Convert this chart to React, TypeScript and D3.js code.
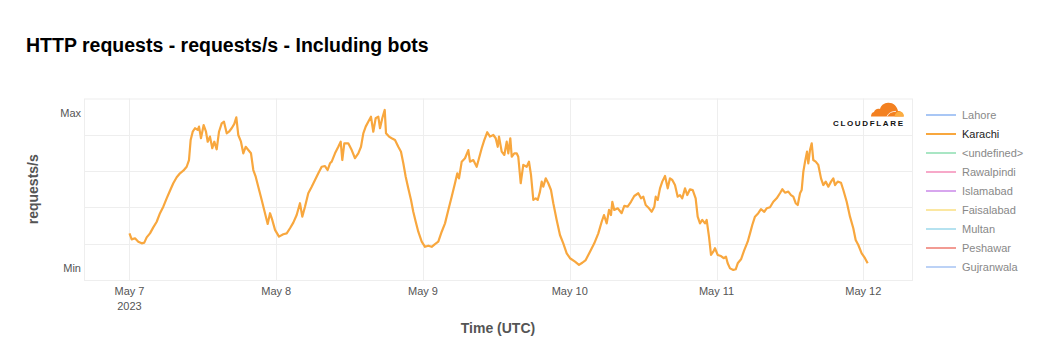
import React from "react";
import * as d3 from "d3";

// ---- data ----
const seriesStartUtc = "2023-05-07T00:00:00Z";
const xDomainHours = [-7.44, 127.97];
// hours since May 7 00:00 UTC
const hoursSinceStart = [
  0, 0.36, 0.9, 1.44, 2.0, 2.42, 2.81, 3.35, 3.89, 4.45, 4.99, 5.53, 6.08, 6.62, 7.16, 7.72, 8.26, 8.8, 9.35, 9.73,
  10.0, 10.34, 10.71, 11.15, 11.37, 11.69, 12.13, 12.51, 12.79, 13.16, 13.54, 13.87, 14.26, 14.64, 15.08, 15.45, 15.9, 16.27, 16.71, 17.14,
  17.47, 17.79, 18.23, 18.61, 19.0, 19.43, 19.87, 20.25, 20.64, 21.06, 21.62, 22.16, 22.6, 22.98, 23.35, 23.8, 24.45, 25.15, 25.71, 26.25,
  26.79, 27.34, 27.88, 28.26, 28.7, 29.24, 29.8, 30.34, 30.88, 31.43, 31.97, 32.41, 32.79,
  33.07, 33.61, 34.15, 34.54, 34.8, 35.13, 35.78, 36.34, 36.88, 37.42, 37.86, 38.24, 38.63, 39.05, 39.49, 39.87, 40.26, 40.69, 40.97, 41.34,
  41.74, 41.95, 42.44, 42.88, 43.42, 43.96, 44.4, 44.78, 45.17, 45.59, 46.04, 46.41, 46.81, 47.23, 47.79, 48.33, 48.87, 49.42, 49.96, 50.5,
  51.06, 51.6, 52.14, 52.69, 53.23, 53.61, 53.89, 54.33, 54.87, 55.41, 55.69, 56.22, 56.78, 57.16, 57.6, 58.02, 58.51, 58.96, 59.5, 59.89,
  60.22, 60.43, 60.87, 61.3, 61.69, 61.95, 62.28, 62.51, 62.93, 63.32, 63.58, 63.98, 64.4, 64.96, 65.33,
  65.66, 66.04, 66.43, 66.76, 67.13, 67.41, 67.67, 68.07, 68.49, 68.93, 69.31, 69.86, 70.4, 70.94, 71.5, 72.04, 72.86, 73.51, 74.05, 74.61,
  75.31, 76.01, 76.67, 77.22, 77.6, 78.04, 78.42, 78.74, 78.96, 79.28, 79.84, 80.49, 80.92, 81.47, 82.01, 82.55, 83.21, 83.65, 84.03, 84.42,
  84.96, 85.4, 85.83, 86.06, 86.38, 86.76, 87.13, 87.58, 88.02, 88.39, 88.77, 89.21, 89.65, 90.03, 90.4, 90.85, 91.22, 91.66, 92.1, 92.59,
  92.92, 93.3, 93.67, 94.12, 94.39, 94.77, 95.1, 95.47, 95.75, 96.19, 96.73, 97.17, 97.55,
  97.83, 98.21, 98.75, 99.14, 99.47, 100.01, 100.54, 101.1, 101.48, 101.85, 102.29, 102.83, 103.27, 103.81, 104.21, 104.75, 105.29, 105.84, 106.38, 106.76,
  107.2, 107.74, 108.18, 108.56, 108.95, 109.28, 109.66, 109.93, 110.2, 110.48, 110.8, 111.01, 111.29, 111.57, 111.83, 112.22, 112.65, 113.09, 113.47, 113.86,
  114.29, 114.73, 115.1, 115.38, 115.82, 116.36, 116.74, 117.29, 117.83, 118.37, 118.76, 119.19, 119.74, 120.28, 120.72,
];
// Karachi requests/s, normalised (0..100 of axis range)
const karachiValues = [
  25.7, 22.4, 23.0, 21.1, 20.2, 20.6, 23.5, 25.7, 29.0, 32.1, 36.8, 40.4, 45.0, 49.2, 53.3, 56.6, 58.8, 60.2, 62.4, 66.1,
  77.1, 81.7, 83.6, 82.7, 84.5, 78.1, 85.4, 81.7, 76.2, 79.0, 72.6, 76.2, 72.0, 81.7, 86.3, 87.2, 80.8, 81.7, 83.6, 86.0,
  89.6, 79.9, 76.2, 69.8, 73.4, 71.6, 69.8, 60.6, 56.9, 51.4, 44.1, 36.8, 30.9, 36.8, 33.1, 27.6, 23.9, 25.2, 25.7, 28.5,
  31.6, 35.8, 42.3, 34.9, 40.4, 47.8, 51.4, 55.1, 58.8, 62.4, 62.8, 60.6, 64.3,
  65.2, 69.8, 73.4, 76.2, 66.1, 75.3, 75.3, 71.6, 67.1, 69.8, 73.4, 80.8, 84.5, 87.2, 90.0, 81.7, 89.1, 90.0, 83.6, 89.1,
  93.7, 80.8, 79.0, 78.1, 77.1, 73.4, 70.7, 64.3, 56.9, 50.5, 44.1, 37.6, 32.1, 26.6, 21.1, 18.3, 18.9, 18.3, 19.8, 21.1,
  26.6, 31.2, 38.6, 45.9, 53.3, 58.8, 56.0, 65.2, 67.1, 71.6, 65.2, 66.1, 62.4, 67.1, 72.6, 77.1, 81.4, 79.0, 79.9, 78.1,
  73.4, 79.0, 70.7, 68.9, 76.2, 69.8, 78.1, 67.9, 69.8, 69.8, 67.9, 53.3, 63.4, 62.4, 65.2,
  57.9, 44.1, 45.0, 44.1, 48.7, 54.2, 51.4, 56.0, 53.3, 49.6, 42.3, 33.1, 24.8, 20.2, 14.7, 12.0, 10.1, 8.3, 9.5, 11.0,
  15.6, 20.2, 25.7, 32.1, 35.8, 31.2, 38.6, 35.8, 43.1, 38.6, 39.5, 36.8, 40.8, 40.4, 43.1, 46.3, 47.8, 45.0, 45.9, 41.3,
  39.5, 37.6, 40.4, 45.9, 44.1, 50.5, 54.2, 57.3, 50.5, 56.0, 55.1, 52.3, 45.9, 46.8, 45.0, 50.5, 46.8, 50.0, 49.6, 45.0,
  34.9, 31.2, 33.1, 31.2, 33.1, 23.9, 13.8, 15.6, 17.5, 13.8, 13.2, 12.0, 12.8,
  9.2, 6.4, 5.5, 5.9, 9.2, 11.4, 16.5, 21.1, 25.7, 30.3, 34.9, 36.8, 39.0, 37.6, 39.5, 40.1, 43.1, 45.0, 47.8, 50.0,
  48.1, 48.7, 46.8, 45.9, 42.3, 41.3, 47.8, 49.6, 59.7, 65.2, 70.7, 64.3, 71.6, 75.3, 66.1, 65.2, 63.4, 56.0, 52.3, 54.2,
  51.4, 54.2, 56.0, 52.3, 54.2, 53.6, 49.6, 43.1, 34.9, 28.5, 22.0, 19.3, 14.7, 12.0, 9.2,
];
const yDomain = [0, 100];
const yGridValues = [20, 40, 60, 80];
const yTickLabels = ["Max", "Min"];
const yTickValues = [92, 6.6];
const xTickDays = ["2023-05-07", "2023-05-08", "2023-05-09", "2023-05-10", "2023-05-11", "2023-05-12"];
const legendNames = ["Lahore", "Karachi", "<undefined>", "Rawalpindi", "Islamabad", "Faisalabad", "Multan", "Peshawar", "Gujranwala"];
const legendColors = ["#a9c7f5", "#f8a73e", "#a9e6c4", "#f7a9c9", "#d7a6ee", "#fbe7a1", "#b5e2f0", "#f29b93", "#bcd2f6"];
const activeSeries = "Karachi";

const W = 1040, H = 360;
const plot = { left: 84, right: 912, top: 98.5, bottom: 280 };
const FONT = "'Liberation Sans', Arial, Helvetica, sans-serif";

export default function App() {
  const start = new Date(seriesStartUtc).getTime();
  const toDate = (h: number) => new Date(start + h * 3600e3);
  const x = d3.scaleUtc().domain(xDomainHours.map(toDate)).range([plot.left, plot.right]);
  const y = d3.scaleLinear().domain(yDomain).range([plot.bottom, plot.top]);
  const pts = hoursSinceStart.map((h, i) => ({ t: toDate(h), v: karachiValues[i] }));
  const line = d3.line<{ t: Date; v: number }>().x((d) => x(d.t)).y((d) => y(d.v));
  const fmt = d3.utcFormat("%b %-d");
  const days = xTickDays.map((s) => new Date(s + "T00:00:00Z"));
  const grid = "#eeeeee";

  return (
    <div style={{ position: "absolute", left: 0, top: 0 }}>
      <svg width={W} height={H} style={{ display: "block", fontFamily: FONT }}>
        <rect width={W} height={H} fill="#fff" />
        <text x={26} y={52} fontSize={19.5} fontWeight="bold" fill="#000">
          HTTP requests - requests/s - Including bots
        </text>

        {/* grid */}
        {yGridValues.map((v) => (
          <line key={"gy" + v} x1={plot.left} x2={plot.right} y1={Math.round(y(v)) + 0.5} y2={Math.round(y(v)) + 0.5} stroke={grid} />
        ))}
        {days.map((d, i) => (
          <line key={"gx" + i} x1={Math.round(x(d)) + 0.5} x2={Math.round(x(d)) + 0.5} y1={plot.top} y2={plot.bottom} stroke={grid} />
        ))}
        <rect x={plot.left + 0.5} y={plot.top + 0.5} width={plot.right - plot.left} height={plot.bottom - plot.top} fill="none" stroke={grid} />

        {/* y ticks */}
        {yTickValues.map((v, i) => (
          <text key={"yt" + i} x={81} y={y(v)} dy="0.35em" textAnchor="end" fontSize={11} fill="#555">
            {yTickLabels[i]}
          </text>
        ))}
        <text transform={`translate(38,${(plot.top + plot.bottom) / 2}) rotate(-90)`} textAnchor="middle" fontSize={14} fontWeight="bold" fill="#555">
          requests/s
        </text>

        {/* x ticks */}
        {days.map((d, i) => (
          <g key={"xt" + i}>
            <text x={x(d)} y={295} textAnchor="middle" fontSize={11} fill="#555">{fmt(d)}</text>
            {i === 0 && (
              <text x={x(d)} y={310} textAnchor="middle" fontSize={11} fill="#555">{d3.utcFormat("%Y")(d)}</text>
            )}
          </g>
        ))}
        <text x={(plot.left + plot.right) / 2} y={333} textAnchor="middle" fontSize={14} fontWeight="bold" fill="#555">
          Time (UTC)
        </text>

        {/* series */}
        <path d={line(pts) || ""} fill="none" stroke={legendColors[legendNames.indexOf(activeSeries)]} strokeWidth={2.2} strokeLinejoin="round" />

        {/* cloudflare logo */}
        <g>
          <path d="M871,116.5 L903.5,116.5 C903.5,113.5 901.5,111 898,111 C897,106 893,102.5 888,102.8 C884,103 881,105.5 880,109 C877.5,108 874.5,109.5 874,112 C872,112.5 871,114.3 871,116.5 Z" fill="#f38020" />
          <path d="M894.5,116.5 L904,116.5 C904,113.6 902,111.6 899.3,111.6 C896.8,111.6 895.2,113.2 894.5,116.5 Z" fill="#fbad41" />
          <path d="M887,116.4 C888.5,113 892,111.2 896,111.4" fill="none" stroke="#fff" strokeWidth={0.8} />
          <text x={833} y={125.8} fontSize={8} fontWeight="bold" fill="#111" textLength={70} lengthAdjust="spacing">CLOUDFLARE</text>
        </g>

        {/* legend */}
        {legendNames.map((n, i) => {
          const ly = 115 + i * 19;
          return (
            <g key={"lg" + i}>
              <line x1={926} x2={956} y1={ly} y2={ly} stroke={legendColors[i]} strokeWidth={2} />
              <text x={962} y={ly} dy="0.35em" fontSize={11} fill={n === activeSeries ? "#222" : "#888"}>{n}</text>
            </g>
          );
        })}
      </svg>
    </div>
  );
}
